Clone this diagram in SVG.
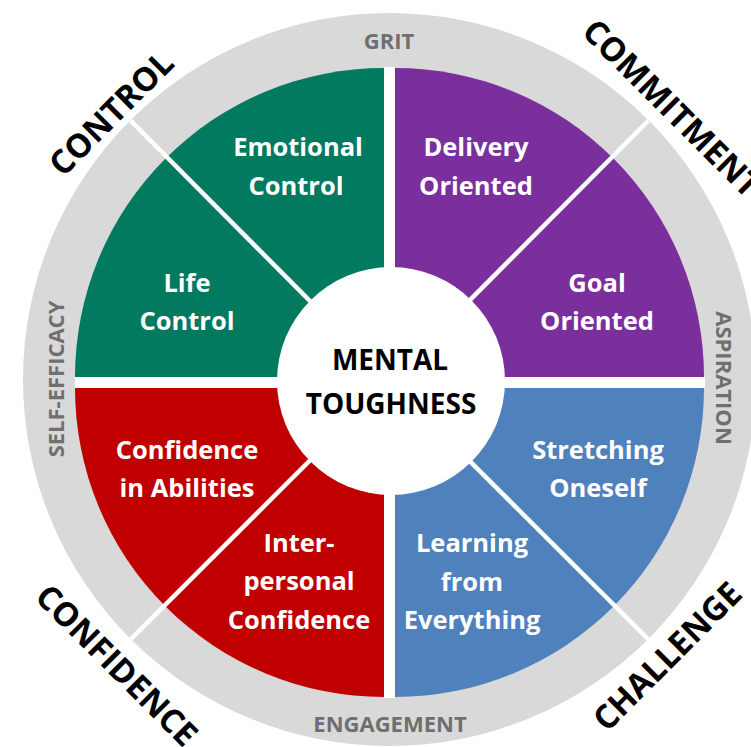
<svg xmlns="http://www.w3.org/2000/svg" width="751" height="747" viewBox="0 0 751 747">
<style>
text{font-family:"Open Sans","Noto Sans","Liberation Sans",sans-serif;font-weight:700;text-anchor:middle}
.seg{fill:#ffffff;font-size:25.5px}
.ring{fill:#6f6f6f;font-size:22px}
.outer{fill:#000000;font-size:33px}
.center{fill:#000000;font-size:28px}
.div{stroke:#ffffff;stroke-width:4.5;fill:none}
</style>
<rect width="751" height="747" fill="#ffffff"/>
<g id="ring">
<circle cx="389.5" cy="379.5" r="366.5" fill="#d9d9d9"/>
<rect x="384" y="67" width="11" height="631" fill="#ffffff"/>
<rect x="75" y="377" width="630" height="11" fill="#ffffff"/>
<text class="ring" x="389" y="49">GRIT</text>
<text class="ring" x="390" y="732">ENGAGEMENT</text>
<text class="ring" transform="translate(56,379) rotate(-90)" x="0" y="8">SELF-EFFICACY</text>
<text class="ring" transform="translate(724,378) rotate(90)" x="0" y="8">ASPIRATION</text>
</g>
<g id="control">
<path d="M384,377 L384,68 A309,309 0 0 0 75,377 Z" fill="#027a5f"/>
<text class="outer" transform="translate(111,113) rotate(-45)" x="0" y="12">CONTROL</text>
</g>
<g id="commitment">
<path d="M395,377 L395,68 A309,309 0 0 1 704,377 Z" fill="#7a2f9d"/>
<text class="outer" transform="translate(672,108) rotate(45)" x="0" y="12">COMMITMENT</text>
</g>
<g id="challenge">
<path d="M395,388 L704,388 A309,309 0 0 1 395,697 Z" fill="#4f81bd"/>
<text class="outer" transform="translate(667,656) rotate(-45)" x="0" y="12">CHALLENGE</text>
</g>
<g id="confidence">
<path d="M384,388 L384,697 A309,309 0 0 1 75,388 Z" fill="#c00000"/>
<text class="outer" transform="translate(117,665) rotate(45)" x="0" y="12">CONFIDENCE</text>
</g>
<g id="connectors">
<line class="div" x1="389.5" y1="381" x2="130.5" y2="120.5"/>
<line class="div" x1="389.5" y1="381" x2="648.5" y2="120.5"/>
<line class="div" x1="389.5" y1="381" x2="648.5" y2="639.5"/>
<line class="div" x1="389.5" y1="381" x2="130.5" y2="639.5"/>
</g>
<g id="emotional-control"><text class="seg" x="298" y="156">Emotional</text><text class="seg" x="296" y="195">Control</text></g>
<g id="life-control"><text class="seg" x="187" y="292">Life</text><text class="seg" x="187" y="330">Control</text></g>
<g id="delivery-oriented"><text class="seg" x="476" y="156">Delivery</text><text class="seg" x="476" y="195">Oriented</text></g>
<g id="goal-oriented"><text class="seg" x="597" y="292">Goal</text><text class="seg" x="597" y="330">Oriented</text></g>
<g id="confidence-in-abilities"><text class="seg" x="187" y="459">Confidence</text><text class="seg" x="187" y="497">in Abilities</text></g>
<g id="interpersonal-confidence"><text class="seg" x="299" y="552">Inter-</text><text class="seg" x="299" y="590">personal</text><text class="seg" x="299" y="629">Confidence</text></g>
<g id="stretching-oneself"><text class="seg" x="598" y="459">Stretching</text><text class="seg" x="598" y="497">Oneself</text></g>
<g id="learning-from-everything"><text class="seg" x="472" y="552">Learning</text><text class="seg" x="472" y="591">from</text><text class="seg" x="472" y="629">Everything</text></g>
<g id="mental-toughness">
<circle cx="391" cy="381" r="114" fill="#ffffff"/>
<text class="center" x="390" y="370">MENTAL</text>
<text class="center" x="391" y="414">TOUGHNESS</text>
</g>
</svg>
